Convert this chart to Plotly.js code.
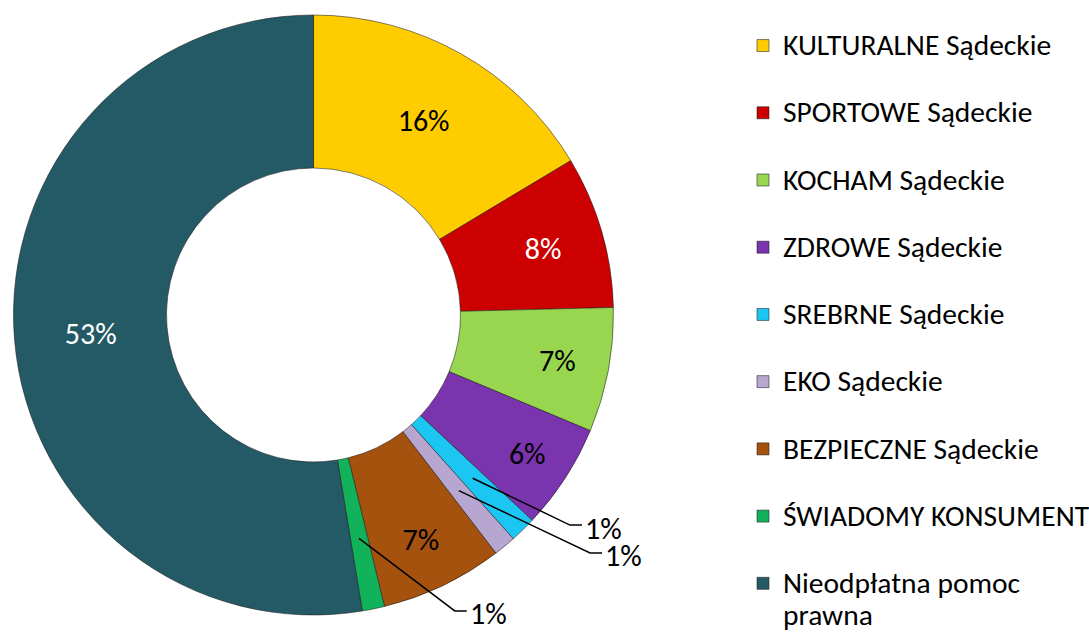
<!DOCTYPE html>
<html>
<head>
<meta charset="utf-8">
<script src="https://cdn.plot.ly/plotly-3.0.1.min.js"></script>
<style>
  html, body { margin: 0; padding: 0; background: #ffffff; }
  #chart { width: 1089px; height: 632px; }
</style>
</head>
<body>
<div id="chart"></div>
<script>
// ---- data ----
const categories = [
  "KULTURALNE Sądeckie",
  "SPORTOWE Sądeckie",
  "KOCHAM Sądeckie",
  "ZDROWE Sądeckie",
  "SREBRNE Sądeckie",
  "EKO Sądeckie",
  "BEZPIECZNE Sądeckie",
  "ŚWIADOMY KONSUMENT",
  "Nieodpłatna pomoc prawna"
];
const shares = [16.4, 8.2, 6.7, 5.7, 1.4, 1.2, 6.6, 1.2, 52.6];
const colors = ["#FFCC00", "#CC0000", "#99D64F", "#7A34AE", "#1CC6F2", "#B6A6D0", "#A5520F", "#12B25A", "#245966"];
const textColors = ["#000000", "#ffffff", "#000000", "#000000", "#000000", "#000000", "#000000", "#000000", "#ffffff"];

// ---- layout geometry ----
const W = 1089, H = 632;
const CX = 313.5, CY = 315, R = 300;
const FONT = "Carlito, Calibri, Lato, sans-serif";
const TEXT_SIZE = 30;
const LEGEND_TEXT_SIZE = 29.5;

const total = shares.reduce((a, b) => a + b, 0);
const fracs = shares.map(v => v / total);
const small = fracs.map(f => f < 0.03);

// legend labels: larger rendered text, padded so entries are spaced like the original
const legendLabels = categories.map(c => {
  const t = c === "Nieodpłatna pomoc prawna" ? "Nieodpłatna pomoc<br>prawna" : c + "<br>&nbsp;";
  return t.split("<br>").map(s => `<span style="font-size:${LEGEND_TEXT_SIZE}px">${s}</span>`).join("<br>");
});

const trace = {
  type: "pie",
  labels: legendLabels,
  values: shares,
  hole: 0.49,
  sort: false,
  direction: "clockwise",
  rotation: 0,
  marker: { colors: colors, line: { color: "rgba(30,30,30,0.55)", width: 1 } },
  texttemplate: "%{percent:.0%}",
  textposition: small.map(s => s ? "none" : "inside"),
  insidetextorientation: "horizontal",
  insidetextfont: { family: FONT, size: TEXT_SIZE, color: textColors },
  hoverinfo: "label+percent",
  domain: { x: [(CX - R) / W, (CX + R) / W], y: [1 - (CY + R) / H, 1 - (CY - R) / H] }
};

// leader lines for the small slices (computed from the data)
const leaderStyle = { 4: { shift: -6.4, r: 1.105 }, 5: { shift: -9.7, r: 1.216 }, 7: { shift: -14, r: 1.093 } };
function polar(angleDeg, r) {
  const t = angleDeg * Math.PI / 180;
  return [CX + r * Math.sin(t), CY - r * Math.cos(t)];
}
const toPX = x => x / W, toPY = y => 1 - y / H;
const shapes = [], annotations = [];
let cum = 0;
fracs.forEach((f, i) => {
  const mid = (cum + f / 2) * 360;
  cum += f;
  if (!small[i] || !leaderStyle[i]) return;
  const st = leaderStyle[i];
  const p0 = polar(mid, 0.76 * R);
  const p1 = polar(mid + st.shift, st.r * R);
  const p2 = [p1[0] + 12, p1[1]];
  const path = `M${toPX(p0[0])},${toPY(p0[1])} L${toPX(p1[0])},${toPY(p1[1])} L${toPX(p2[0])},${toPY(p2[1])}`;
  shapes.push({ type: "path", xref: "paper", yref: "paper", path: path, line: { color: "#000000", width: 1.5 } });
  annotations.push({
    xref: "paper", yref: "paper", x: toPX(p2[0] + 1), y: toPY(p2[1] + 3),
    xanchor: "left", yanchor: "middle", showarrow: false,
    text: Math.round(f * 100) + "%", font: { family: FONT, size: TEXT_SIZE, color: "#000000" }
  });
});

const layout = {
  width: W, height: H,
  margin: { l: 0, r: 0, t: 0, b: 0, autoexpand: false },
  paper_bgcolor: "#ffffff",
  showlegend: true,
  legend: {
    x: 743 / W, xanchor: "left", y: 1 - 23 / H, yanchor: "top",
    valign: "top", font: { family: FONT, size: 24.7, color: "#000000" },
    bgcolor: "rgba(0,0,0,0)", borderwidth: 0
  },
  shapes: shapes,
  annotations: annotations
};

Plotly.newPlot("chart", [trace], layout, { displayModeBar: false, staticPlot: true });
</script>
</body>
</html>
